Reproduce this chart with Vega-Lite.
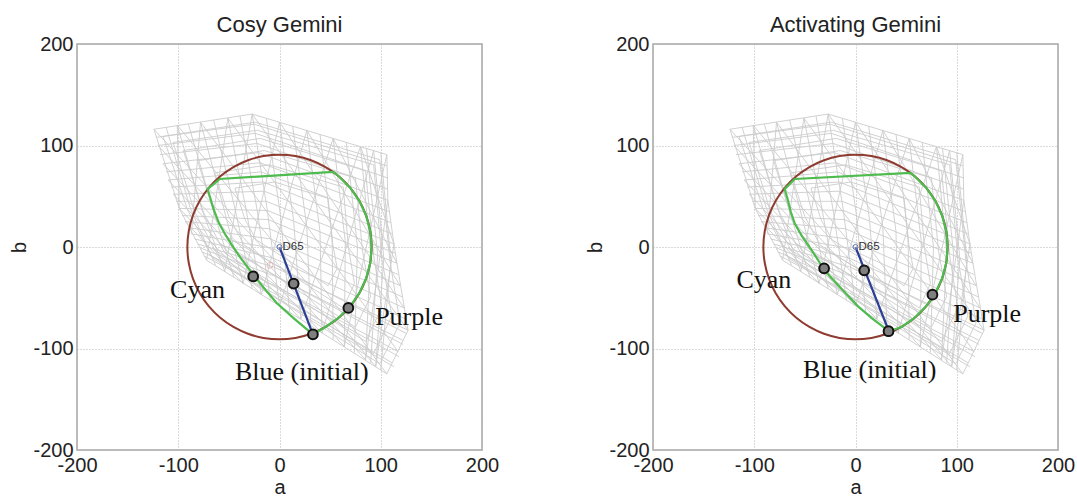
{"$schema":"https://vega.github.io/schema/vega-lite/v6.json","background":"white","padding":{"left":9,"top":13,"right":0,"bottom":0},"spacing":85,
"config":{"font":"Liberation Sans","view":{"stroke":"#a6a6a6","strokeWidth":1.5},"axis":{"grid":true,"gridColor":"#b5b5b5","gridDash":[1,2],"gridWidth":1,"domain":false,"ticks":false,"labelFontSize":20,"labelColor":"#222","titleFontSize":20,"titleColor":"#222","titleFontWeight":"normal","labelOverlap":false,"labelBound":false,"labelFlush":false},"title":{"fontSize":22,"fontWeight":"normal","color":"#222","font":"Liberation Sans"}},
"datasets":{
"mesh":[
{"id":"r0","i":0,"a":-124,"b":116},{"id":"r0","i":1,"a":-27,"b":131},{"id":"r0","i":2,"a":106,"b":91},
{"id":"r1","i":0,"a":-120,"b":100},{"id":"r1","i":1,"a":-24,"b":112},{"id":"r1","i":2,"a":107,"b":68},
{"id":"r2","i":0,"a":-115,"b":82},{"id":"r2","i":1,"a":-21,"b":93},{"id":"r2","i":2,"a":107,"b":46},
{"id":"r3","i":0,"a":-110,"b":66},{"id":"r3","i":1,"a":-18,"b":74},{"id":"r3","i":2,"a":110,"b":24},
{"id":"r4","i":0,"a":-105,"b":52},{"id":"r4","i":1,"a":-15,"b":55},{"id":"r4","i":2,"a":113,"b":3},
{"id":"r5","i":0,"a":-99,"b":38},{"id":"r5","i":1,"a":-12,"b":36},{"id":"r5","i":2,"a":116,"b":-16},
{"id":"r6","i":0,"a":-93,"b":25},{"id":"r6","i":1,"a":-10,"b":18},{"id":"r6","i":2,"a":119,"b":-38},
{"id":"r7","i":0,"a":-87,"b":13},{"id":"r7","i":1,"a":-8,"b":-1},{"id":"r7","i":2,"a":123,"b":-60},
{"id":"r8","i":0,"a":-81,"b":3},{"id":"r8","i":1,"a":-5,"b":-20},{"id":"r8","i":2,"a":127,"b":-82},
{"id":"r9","i":0,"a":-76,"b":-5},{"id":"r9","i":1,"a":-3,"b":-39},{"id":"r9","i":2,"a":117,"b":-103},
{"id":"r10","i":0,"a":-72,"b":-13},{"id":"r10","i":1,"a":0,"b":-58},{"id":"r10","i":2,"a":106,"b":-125},
{"id":"h0","i":0,"a":-122,"b":108},{"id":"h0","i":1,"a":-25,"b":121},{"id":"h0","i":2,"a":106,"b":80},
{"id":"h1","i":0,"a":-118,"b":91},{"id":"h1","i":1,"a":-22,"b":102},{"id":"h1","i":2,"a":107,"b":57},
{"id":"h2","i":0,"a":-112,"b":74},{"id":"h2","i":1,"a":-19,"b":83},{"id":"h2","i":2,"a":108,"b":35},
{"id":"h3","i":0,"a":-107,"b":59},{"id":"h3","i":1,"a":-16,"b":64},{"id":"h3","i":2,"a":111,"b":13},
{"id":"h4","i":0,"a":-102,"b":45},{"id":"h4","i":1,"a":-13,"b":45},{"id":"h4","i":2,"a":114,"b":-6},
{"id":"h5","i":0,"a":-96,"b":31},{"id":"h5","i":1,"a":-11,"b":27},{"id":"h5","i":2,"a":117,"b":-27},
{"id":"h6","i":0,"a":-90,"b":19},{"id":"h6","i":1,"a":-9,"b":8},{"id":"h6","i":2,"a":121,"b":-49},
{"id":"h7","i":0,"a":-84,"b":8},{"id":"h7","i":1,"a":-6,"b":-11},{"id":"h7","i":2,"a":125,"b":-71},
{"id":"h8","i":0,"a":-78,"b":-1},{"id":"h8","i":1,"a":-4,"b":-29},{"id":"h8","i":2,"a":122,"b":-92},
{"id":"h9","i":0,"a":-74,"b":-9},{"id":"h9","i":1,"a":-1,"b":-48},{"id":"h9","i":2,"a":111,"b":-114},
{"id":"q1","i":0,"a":-70,"b":-7},{"id":"q1","i":1,"a":2,"b":-53},{"id":"q1","i":2,"a":113,"b":-118},
{"id":"q2","i":0,"a":-66,"b":-2},{"id":"q2","i":1,"a":5,"b":-45},{"id":"q2","i":2,"a":118,"b":-108},
{"id":"q3","i":0,"a":-60,"b":4},{"id":"q3","i":1,"a":8,"b":-35},{"id":"q3","i":2,"a":122,"b":-96},
{"id":"q4","i":0,"a":-54,"b":11},{"id":"q4","i":1,"a":11,"b":-26},{"id":"q4","i":2,"a":125,"b":-85},
{"id":"c0","i":0,"a":-124,"b":116},{"id":"c0","i":1,"a":-99,"b":38},{"id":"c0","i":2,"a":-72,"b":-13},
{"id":"c1","i":0,"a":-101,"b":120},{"id":"c1","i":1,"a":-77,"b":38},{"id":"c1","i":2,"a":-54,"b":-24},
{"id":"c2","i":0,"a":-78,"b":123},{"id":"c2","i":1,"a":-55,"b":38},{"id":"c2","i":2,"a":-36,"b":-36},
{"id":"c3","i":0,"a":-51,"b":127},{"id":"c3","i":1,"a":-33,"b":37},{"id":"c3","i":2,"a":-18,"b":-47},
{"id":"c4","i":0,"a":-27,"b":131},{"id":"c4","i":1,"a":-12,"b":36},{"id":"c4","i":2,"a":0,"b":-58},
{"id":"c5","i":0,"a":0,"b":123},{"id":"c5","i":1,"a":14,"b":26},{"id":"c5","i":2,"a":21,"b":-71},
{"id":"c6","i":0,"a":27,"b":115},{"id":"c6","i":1,"a":40,"b":15},{"id":"c6","i":2,"a":42,"b":-85},
{"id":"c7","i":0,"a":53,"b":107},{"id":"c7","i":1,"a":65,"b":5},{"id":"c7","i":2,"a":64,"b":-98},
{"id":"c8","i":0,"a":80,"b":99},{"id":"c8","i":1,"a":90,"b":-5},{"id":"c8","i":2,"a":85,"b":-111},
{"id":"c9","i":0,"a":93,"b":95},{"id":"c9","i":1,"a":103,"b":-11},{"id":"c9","i":2,"a":95,"b":-118},
{"id":"c10","i":0,"a":106,"b":91},{"id":"c10","i":1,"a":107,"b":46},{"id":"c10","i":2,"a":113,"b":3},{"id":"c10","i":3,"a":116,"b":-16},{"id":"c10","i":4,"a":127,"b":-82},{"id":"c10","i":5,"a":106,"b":-125},
{"id":"v0","i":0,"a":-112,"b":118},{"id":"v0","i":1,"a":-88,"b":38},{"id":"v0","i":2,"a":-63,"b":-18},
{"id":"v1","i":0,"a":-90,"b":121},{"id":"v1","i":1,"a":-66,"b":38},{"id":"v1","i":2,"a":-45,"b":-30},
{"id":"v2","i":0,"a":-65,"b":125},{"id":"v2","i":1,"a":-44,"b":38},{"id":"v2","i":2,"a":-27,"b":-41},
{"id":"v3","i":0,"a":-39,"b":129},{"id":"v3","i":1,"a":-22,"b":36},{"id":"v3","i":2,"a":-9,"b":-52},
{"id":"v4","i":0,"a":-13,"b":127},{"id":"v4","i":1,"a":1,"b":31},{"id":"v4","i":2,"a":10,"b":-64},
{"id":"v5","i":0,"a":13,"b":119},{"id":"v5","i":1,"a":27,"b":20},{"id":"v5","i":2,"a":31,"b":-78},
{"id":"v6","i":0,"a":40,"b":111},{"id":"v6","i":1,"a":52,"b":10},{"id":"v6","i":2,"a":53,"b":-91},
{"id":"v7","i":0,"a":66,"b":103},{"id":"v7","i":1,"a":77,"b":0},{"id":"v7","i":2,"a":74,"b":-104},
{"id":"v8","i":0,"a":86,"b":97},{"id":"v8","i":1,"a":97,"b":-8},{"id":"v8","i":2,"a":90,"b":-114},
{"id":"v9","i":0,"a":100,"b":93},{"id":"v9","i":1,"a":110,"b":-13},{"id":"v9","i":2,"a":100,"b":-121},
{"id":"a0","i":0,"a":-110,"b":66},{"id":"a0","i":1,"a":21,"b":-71},
{"id":"a1","i":0,"a":-115,"b":82},{"id":"a1","i":1,"a":42,"b":-85},
{"id":"a2","i":0,"a":-120,"b":100},{"id":"a2","i":1,"a":64,"b":-98},
{"id":"a3","i":0,"a":-124,"b":116},{"id":"a3","i":1,"a":85,"b":-111},
{"id":"a4","i":0,"a":-101,"b":120},{"id":"a4","i":1,"a":95,"b":-118},
{"id":"a5","i":0,"a":-78,"b":123},{"id":"a5","i":1,"a":106,"b":-125},
{"id":"a6","i":0,"a":-51,"b":127},{"id":"a6","i":1,"a":117,"b":-103},
{"id":"a7","i":0,"a":-27,"b":131},{"id":"a7","i":1,"a":127,"b":-82},
{"id":"a8","i":0,"a":0,"b":123},{"id":"a8","i":1,"a":123,"b":-60},
{"id":"a9","i":0,"a":27,"b":115},{"id":"a9","i":1,"a":119,"b":-38},
{"id":"a10","i":0,"a":53,"b":107},{"id":"a10","i":1,"a":116,"b":-16},
{"id":"a11","i":0,"a":80,"b":99},{"id":"a11","i":1,"a":113,"b":3},
{"id":"a12","i":0,"a":-105,"b":52},{"id":"a12","i":1,"a":0,"b":-58},
{"id":"a13","i":0,"a":-99,"b":38},{"id":"a13","i":1,"a":-18,"b":-47},
{"id":"a14","i":0,"a":-93,"b":25},{"id":"a14","i":1,"a":-36,"b":-36},
{"id":"b0","i":0,"a":-72,"b":-13},{"id":"b0","i":1,"a":-51,"b":127},
{"id":"b1","i":0,"a":-54,"b":-24},{"id":"b1","i":1,"a":-27,"b":131},
{"id":"b2","i":0,"a":-36,"b":-36},{"id":"b2","i":1,"a":0,"b":123},
{"id":"b3","i":0,"a":-18,"b":-47},{"id":"b3","i":1,"a":27,"b":115},
{"id":"b4","i":0,"a":0,"b":-58},{"id":"b4","i":1,"a":53,"b":107},
{"id":"b5","i":0,"a":21,"b":-71},{"id":"b5","i":1,"a":80,"b":99},
{"id":"b6","i":0,"a":42,"b":-85},{"id":"b6","i":1,"a":93,"b":95},
{"id":"b7","i":0,"a":64,"b":-98},{"id":"b7","i":1,"a":106,"b":91},
{"id":"b8","i":0,"a":85,"b":-111},{"id":"b8","i":1,"a":107,"b":46},
{"id":"b9","i":0,"a":95,"b":-118},{"id":"b9","i":1,"a":113,"b":3},
{"id":"b10","i":0,"a":-87,"b":13},{"id":"b10","i":1,"a":-78,"b":123},
{"id":"b11","i":0,"a":-99,"b":38},{"id":"b11","i":1,"a":-101,"b":120},
{"id":"s1","i":0,"a":-115,"b":109},{"id":"s1","i":1,"a":-24,"b":123},{"id":"s1","i":2,"a":99,"b":86},{"id":"s1","i":3,"a":109,"b":-13},{"id":"s1","i":4,"a":119,"b":-75},{"id":"s1","i":5,"a":99,"b":-115},{"id":"s1","i":6,"a":-66,"b":-11},{"id":"s1","i":7,"a":-91,"b":37},{"id":"s1","i":8,"a":-115,"b":109},
{"id":"s2","i":0,"a":-105,"b":103},{"id":"s2","i":1,"a":-22,"b":115},{"id":"s2","i":2,"a":93,"b":81},{"id":"s2","i":3,"a":101,"b":-11},{"id":"s2","i":4,"a":111,"b":-68},{"id":"s2","i":5,"a":93,"b":-105},{"id":"s2","i":6,"a":-61,"b":-8},{"id":"s2","i":7,"a":-84,"b":35},{"id":"s2","i":8,"a":-105,"b":103},
{"id":"s3","i":0,"a":-95,"b":95},{"id":"s3","i":1,"a":-19,"b":107},{"id":"s3","i":2,"a":85,"b":75},{"id":"s3","i":3,"a":93,"b":-8},{"id":"s3","i":4,"a":101,"b":-60},{"id":"s3","i":5,"a":85,"b":-93},{"id":"s3","i":6,"a":-54,"b":-6},{"id":"s3","i":7,"a":-75,"b":34},{"id":"s3","i":8,"a":-95,"b":95},
{"id":"s4","i":0,"a":-81,"b":85},{"id":"s4","i":1,"a":-15,"b":95},{"id":"s4","i":2,"a":75,"b":68},{"id":"s4","i":3,"a":82,"b":-4},{"id":"s4","i":4,"a":90,"b":-49},{"id":"s4","i":5,"a":75,"b":-79},{"id":"s4","i":6,"a":-46,"b":-2},{"id":"s4","i":7,"a":-64,"b":32},{"id":"s4","i":8,"a":-81,"b":85},
{"id":"s5","i":0,"a":-64,"b":73},{"id":"s5","i":1,"a":-10,"b":81},{"id":"s5","i":2,"a":63,"b":59},{"id":"s5","i":3,"a":68,"b":0},{"id":"s5","i":4,"a":74,"b":-36},{"id":"s5","i":5,"a":63,"b":-60},{"id":"s5","i":6,"a":-35,"b":2},{"id":"s5","i":7,"a":-50,"b":30},{"id":"s5","i":8,"a":-64,"b":73},
{"id":"s6","i":0,"a":-44,"b":58},{"id":"s6","i":1,"a":-5,"b":64},{"id":"s6","i":2,"a":48,"b":48},{"id":"s6","i":3,"a":52,"b":6},{"id":"s6","i":4,"a":57,"b":-21},{"id":"s6","i":5,"a":48,"b":-38},{"id":"s6","i":6,"a":-23,"b":7},{"id":"s6","i":7,"a":-34,"b":27},{"id":"s6","i":8,"a":-44,"b":58}
],
"circle":[{"i":0,"a":91,"b":0},{"i":1,"a":89.6,"b":15.8},{"i":2,"a":85.5,"b":31.1},{"i":3,"a":78.8,"b":45.5},{"i":4,"a":69.7,"b":58.5},{"i":5,"a":58.5,"b":69.7},{"i":6,"a":45.5,"b":78.8},{"i":7,"a":31.1,"b":85.5},{"i":8,"a":15.8,"b":89.6},{"i":9,"a":0,"b":91},{"i":10,"a":-15.8,"b":89.6},{"i":11,"a":-31.1,"b":85.5},{"i":12,"a":-45.5,"b":78.8},{"i":13,"a":-58.5,"b":69.7},{"i":14,"a":-69.7,"b":58.5},{"i":15,"a":-78.8,"b":45.5},{"i":16,"a":-85.5,"b":31.1},{"i":17,"a":-89.6,"b":15.8},{"i":18,"a":-91,"b":0},{"i":19,"a":-89.6,"b":-15.8},{"i":20,"a":-85.5,"b":-31.1},{"i":21,"a":-78.8,"b":-45.5},{"i":22,"a":-69.7,"b":-58.5},{"i":23,"a":-58.5,"b":-69.7},{"i":24,"a":-45.5,"b":-78.8},{"i":25,"a":-31.1,"b":-85.5},{"i":26,"a":-15.8,"b":-89.6},{"i":27,"a":0,"b":-91},{"i":28,"a":15.8,"b":-89.6},{"i":29,"a":31.1,"b":-85.5},{"i":30,"a":45.5,"b":-78.8},{"i":31,"a":58.5,"b":-69.7},{"i":32,"a":69.7,"b":-58.5},{"i":33,"a":78.8,"b":-45.5},{"i":34,"a":85.5,"b":-31.1},{"i":35,"a":89.6,"b":-15.8},{"i":36,"a":91,"b":0}],
"greenL":[{"i":0,"a":33,"b":-86},{"i":1,"a":45.5,"b":-78.8},{"i":2,"a":58.5,"b":-69.7},{"i":3,"a":69.7,"b":-58.5},{"i":4,"a":78.8,"b":-45.5},{"i":5,"a":85.5,"b":-31.1},{"i":6,"a":89.6,"b":-15.8},{"i":7,"a":91,"b":0},{"i":8,"a":89.6,"b":15.8},{"i":9,"a":85.5,"b":31.1},{"i":10,"a":78.8,"b":45.5},{"i":11,"a":69.7,"b":58.5},{"i":12,"a":58.5,"b":69.7},{"i":13,"a":53,"b":74},{"i":14,"a":-59,"b":67},{"i":15,"a":-71,"b":57},{"i":16,"a":-68,"b":47},{"i":17,"a":-65,"b":37},{"i":18,"a":-60,"b":24},{"i":19,"a":-54,"b":13},{"i":20,"a":-47,"b":2},{"i":21,"a":-39,"b":-10},{"i":22,"a":-26,"b":-27},{"i":23,"a":-14,"b":-42},{"i":24,"a":-3,"b":-55},{"i":25,"a":15,"b":-71},{"i":26,"a":33,"b":-86}],
"greenR":[{"i":0,"a":33,"b":-83},{"i":1,"a":45.5,"b":-78.8},{"i":2,"a":58.5,"b":-69.7},{"i":3,"a":69.7,"b":-58.5},{"i":4,"a":78.8,"b":-45.5},{"i":5,"a":85.5,"b":-31.1},{"i":6,"a":89.6,"b":-15.8},{"i":7,"a":91,"b":0},{"i":8,"a":89.6,"b":15.8},{"i":9,"a":85.5,"b":31.1},{"i":10,"a":78.8,"b":45.5},{"i":11,"a":69.7,"b":58.5},{"i":12,"a":58.5,"b":69.7},{"i":13,"a":54,"b":73},{"i":14,"a":-60,"b":67},{"i":15,"a":-70,"b":57},{"i":16,"a":-67,"b":47},{"i":17,"a":-64,"b":35},{"i":18,"a":-60,"b":23},{"i":19,"a":-53,"b":11},{"i":20,"a":-44,"b":-2},{"i":21,"a":-35,"b":-16},{"i":22,"a":-26,"b":-28},{"i":23,"a":-12,"b":-43},{"i":24,"a":2,"b":-58},{"i":25,"a":16,"b":-70},{"i":26,"a":33,"b":-83}],
"blueL":[{"i":0,"a":0,"b":0},{"i":1,"a":33,"b":-86}],
"blueR":[{"i":0,"a":0,"b":0},{"i":1,"a":33,"b":-83}],
"ptsL":[{"name":"Cyan","a":-26,"b":-29},{"name":"Centre","a":14,"b":-36},{"name":"Purple","a":68,"b":-60},{"name":"Blue","a":33,"b":-86}],
"ptsR":[{"name":"Cyan","a":-31,"b":-21},{"name":"Centre","a":8.6,"b":-23},{"name":"Purple","a":76,"b":-47},{"name":"Blue","a":32.6,"b":-83}],
"labelsL":[{"t":"Cyan","a":-81,"b":-42},{"t":"Purple","a":128,"b":-69},{"t":"Blue (initial)","a":22,"b":-123}],
"labelsR":[{"t":"Cyan","a":-90.5,"b":-33},{"t":"Purple","a":130,"b":-66},{"t":"Blue (initial)","a":14,"b":-121}],
"d65":[{"t":"D65","a":0,"b":0}],
"pink":[{"a":-9.4,"b":-18}]
},
"hconcat":[
{"width":405,"height":406,"title":{"text":"Cosy Gemini","offset":-3},
"encoding":{"x":{"field":"a","type":"quantitative","scale":{"domain":[-200,200],"nice":false},"axis":{"title":"a","titlePadding":2,"labelPadding":5,"values":[-200,-100,0,100,200],"labelExpr":"replace(datum.label,'−','-')"}},"y":{"field":"b","type":"quantitative","scale":{"domain":[-200,200],"nice":false},"axis":{"title":"b","titlePadding":3,"labelPadding":4,"values":[-200,-100,0,100,200],"labelExpr":"replace(datum.label,'−','-')"}}},
"layer":[
{"data":{"name":"mesh"},"mark":{"type":"line","stroke":"#cccccc","strokeWidth":0.9},"encoding":{"detail":{"field":"id"},"order":{"field":"i"}}},
{"data":{"name":"circle"},"mark":{"type":"line","stroke":"#8e3b30","strokeWidth":2,"interpolate":"cardinal"},"encoding":{"order":{"field":"i"}}},
{"data":{"name":"greenL"},"mark":{"type":"line","stroke":"#4dbb4d","strokeWidth":2.2},"encoding":{"order":{"field":"i"}}},
{"data":{"name":"blueL"},"mark":{"type":"line","stroke":"#2a3f95","strokeWidth":2.2},"encoding":{"order":{"field":"i"}}},
{"data":{"name":"d65"},"mark":{"type":"point","shape":"circle","size":25,"stroke":"#5a6fb0","strokeWidth":1,"fill":"#ffffff","fillOpacity":0.3}},
{"data":{"name":"pink"},"mark":{"type":"point","shape":"circle","size":35,"stroke":"#e0a8a8","strokeWidth":1,"fill":null}},
{"data":{"name":"ptsL"},"mark":{"type":"point","shape":"circle","size":95,"filled":true,"fill":"#7f7f7f","fillOpacity":1,"stroke":"#111","strokeWidth":2,"opacity":1}},
{"data":{"name":"d65"},"mark":{"type":"text","align":"left","dx":3,"fontSize":11.5,"color":"#333","font":"Liberation Sans"},"encoding":{"text":{"field":"t"}}},
{"data":{"name":"labelsL"},"mark":{"type":"text","font":"Liberation Serif","fontSize":26,"color":"#111"},"encoding":{"text":{"field":"t"}}}
]},
{"width":405,"height":406,"title":{"text":"Activating Gemini","offset":-3},
"encoding":{"x":{"field":"a","type":"quantitative","scale":{"domain":[-200,200],"nice":false},"axis":{"title":"a","titlePadding":2,"labelPadding":5,"values":[-200,-100,0,100,200],"labelExpr":"replace(datum.label,'−','-')"}},"y":{"field":"b","type":"quantitative","scale":{"domain":[-200,200],"nice":false},"axis":{"title":"b","titlePadding":3,"labelPadding":4,"values":[-200,-100,0,100,200],"labelExpr":"replace(datum.label,'−','-')"}}},
"layer":[
{"data":{"name":"mesh"},"mark":{"type":"line","stroke":"#cccccc","strokeWidth":0.9},"encoding":{"detail":{"field":"id"},"order":{"field":"i"}}},
{"data":{"name":"circle"},"mark":{"type":"line","stroke":"#8e3b30","strokeWidth":2,"interpolate":"cardinal"},"encoding":{"order":{"field":"i"}}},
{"data":{"name":"greenR"},"mark":{"type":"line","stroke":"#4dbb4d","strokeWidth":2.2},"encoding":{"order":{"field":"i"}}},
{"data":{"name":"blueR"},"mark":{"type":"line","stroke":"#2a3f95","strokeWidth":2.2},"encoding":{"order":{"field":"i"}}},
{"data":{"name":"d65"},"mark":{"type":"point","shape":"circle","size":25,"stroke":"#5a6fb0","strokeWidth":1,"fill":"#ffffff","fillOpacity":0.3}},
{"data":{"name":"ptsR"},"mark":{"type":"point","shape":"circle","size":95,"filled":true,"fill":"#7f7f7f","fillOpacity":1,"stroke":"#111","strokeWidth":2,"opacity":1}},
{"data":{"name":"d65"},"mark":{"type":"text","align":"left","dx":3,"fontSize":11.5,"color":"#333","font":"Liberation Sans"},"encoding":{"text":{"field":"t"}}},
{"data":{"name":"labelsR"},"mark":{"type":"text","font":"Liberation Serif","fontSize":26,"color":"#111"},"encoding":{"text":{"field":"t"}}}
]}
]}
